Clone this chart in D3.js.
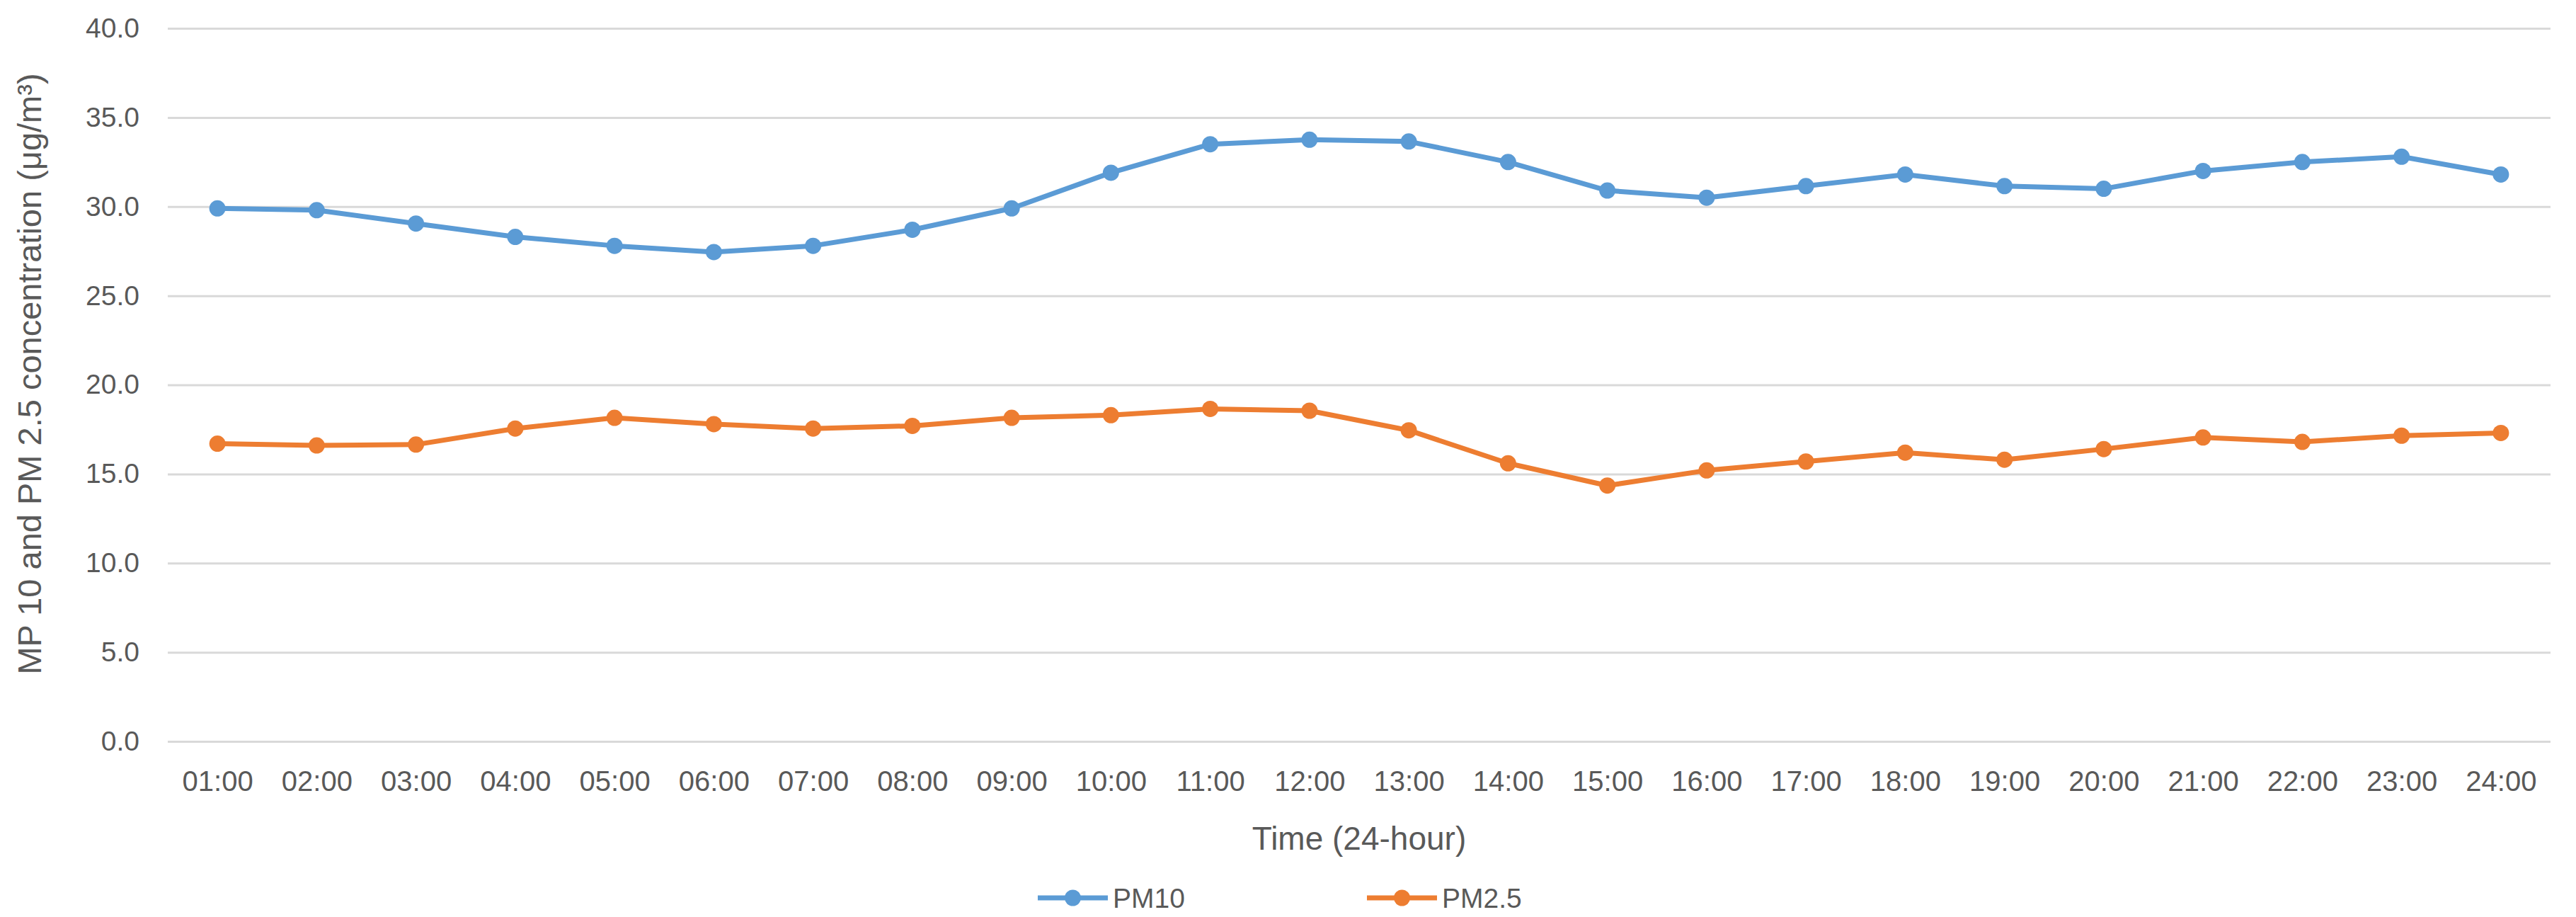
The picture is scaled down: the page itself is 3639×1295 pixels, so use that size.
<!DOCTYPE html>
<html>
<head>
<meta charset="utf-8">
<script src="https://cdn.jsdelivr.net/npm/d3@7"></script>
<style>
  html, body { margin: 0; padding: 0; background: #fff; }
  svg { display: block; }
</style>
</head>
<body>
<svg id="chart" width="3639" height="1295"></svg>
<script>
const categories = ["01:00","02:00","03:00","04:00","05:00","06:00","07:00","08:00","09:00","10:00","11:00","12:00","13:00","14:00","15:00","16:00","17:00","18:00","19:00","20:00","21:00","22:00","23:00","24:00"];
const pm10 = [29.9,29.8,29.05,28.3,27.8,27.45,27.8,28.7,29.9,31.9,33.5,33.75,33.65,32.5,30.9,30.5,31.15,31.8,31.15,31.0,32.0,32.5,32.8,31.8];
const pm25 = [16.7,16.6,16.65,17.55,18.15,17.8,17.55,17.7,18.15,18.3,18.65,18.55,17.45,15.6,14.35,15.2,15.7,16.2,15.8,16.4,17.05,16.8,17.15,17.3];
const yTicks = [0,5,10,15,20,25,30,35,40];
const seriesNames = ["PM10","PM2.5"];
const seriesColors = ["#5B9BD5","#ED7D31"];

(function () {
const svg = d3.select("#chart");
const font = "'Liberation Sans', Arial, sans-serif";
const textColor = "#595959";

const mLeft = 237, mRight = 3603, mTop = 40, mBottom = 1047;
const x = d3.scalePoint().domain(categories).range([mLeft, mRight]).padding(0.5);
const y = d3.scaleLinear().domain([0, 40]).range([mBottom, mTop]);

// gridlines + y tick labels
const yAxis = d3.axisLeft(y).tickValues(yTicks).tickSize(-(mRight - mLeft)).tickFormat(d3.format(".1f")).tickPadding(40);
const gy = svg.append("g").attr("transform", `translate(${mLeft},0)`).call(yAxis);
gy.select(".domain").remove();
gy.selectAll(".tick line").attr("stroke", "#d9d9d9").attr("stroke-width", 3);
gy.selectAll(".tick text").attr("fill", textColor).attr("font-family", font).attr("font-size", 39);

// x axis labels
const xAxis = d3.axisBottom(x).tickSize(0).tickPadding(42);
const gx = svg.append("g").attr("transform", `translate(0,${mBottom})`).call(xAxis);
gx.select(".domain").remove();
gx.selectAll(".tick text").attr("fill", textColor).attr("font-family", font).attr("font-size", 40);

// series
const data = [pm10, pm25];
const line = d3.line().x((d, i) => x(categories[i])).y(d => y(d));
data.forEach((vals, si) => {
  svg.append("path").datum(vals)
    .attr("d", line)
    .attr("fill", "none")
    .attr("stroke", seriesColors[si])
    .attr("stroke-width", 7)
    .attr("stroke-linejoin", "round");
  svg.append("g").selectAll("circle").data(vals).join("circle")
    .attr("cx", (d, i) => x(categories[i]))
    .attr("cy", d => y(d))
    .attr("r", 11.5)
    .attr("fill", seriesColors[si]);
});

// axis titles
svg.append("text")
  .attr("x", (mLeft + mRight) / 2).attr("y", 1200)
  .attr("text-anchor", "middle")
  .attr("fill", textColor).attr("font-family", font).attr("font-size", 46)
  .text("Time (24-hour)");

svg.append("text")
  .attr("transform", `translate(58,528) rotate(-90)`)
  .attr("text-anchor", "middle")
  .attr("fill", textColor).attr("font-family", font).attr("font-size", 47)
  .text("MP 10 and PM 2.5 concentration (μg/m³)");

// legend
const legendX = [1466, 1931];
seriesNames.forEach((name, i) => {
  const g = svg.append("g").attr("transform", `translate(${legendX[i]},1268)`);
  g.append("line").attr("x1", 0).attr("x2", 99).attr("y1", 0).attr("y2", 0)
    .attr("stroke", seriesColors[i]).attr("stroke-width", 7);
  g.append("circle").attr("cx", 49.5).attr("cy", 0).attr("r", 11.5).attr("fill", seriesColors[i]);
  g.append("text").attr("x", 106).attr("y", 0).attr("dy", "0.35em")
    .attr("fill", textColor).attr("font-family", font).attr("font-size", 39)
    .text(name);
});
})();
</script>
</body>
</html>
